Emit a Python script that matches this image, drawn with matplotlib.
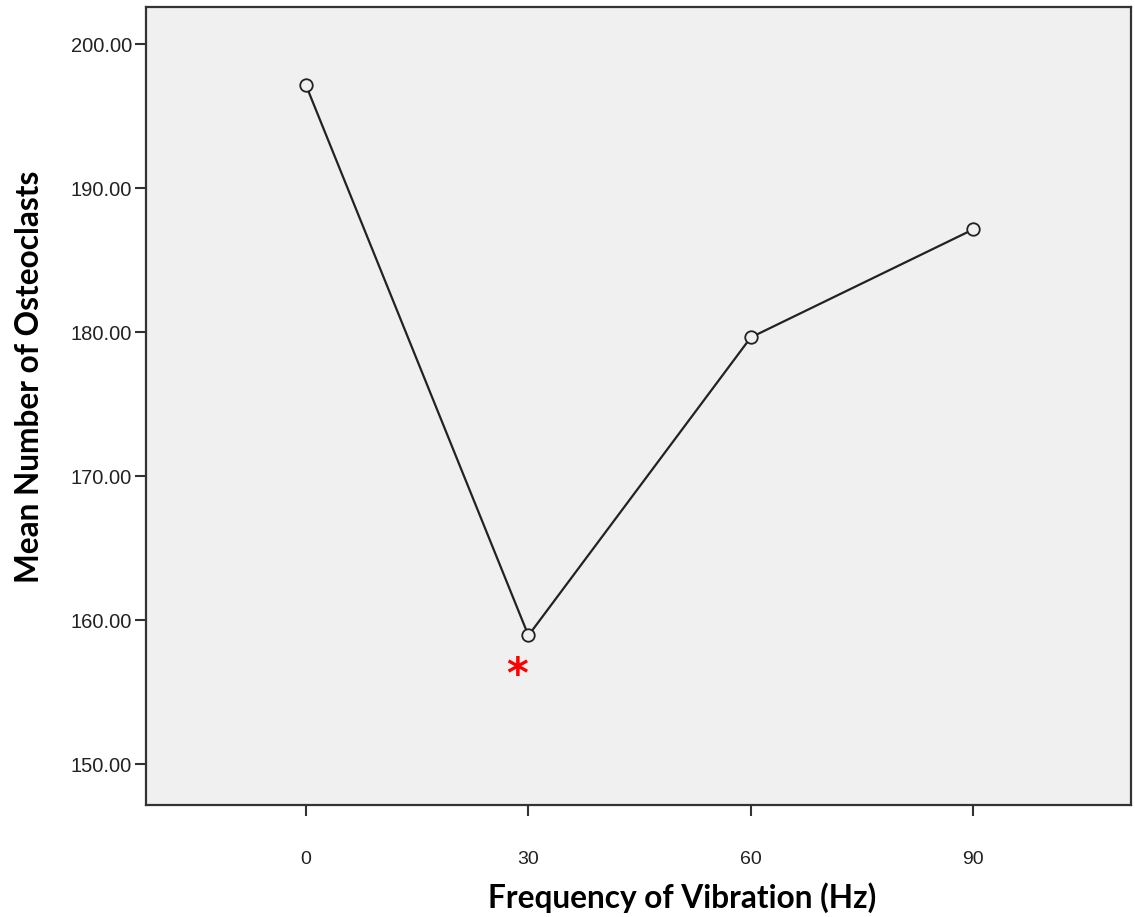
import matplotlib.pyplot as plt

# data
freq = [0, 30, 60, 90]
means = [197.15, 158.95, 179.65, 187.15]
yticks = [150, 160, 170, 180, 190, 200]
sig_idx = 1  # 30 Hz marked as significant

fig = plt.figure(figsize=(11.35, 9.17), dpi=100)
ax = fig.add_axes([0.1286, 0.1225, 0.8679, 0.8699])
ax.set_facecolor('#f0f0f0')

ax.plot(freq, means, color='#222222', linewidth=1.6, marker='o', markersize=9,
        markerfacecolor='#f0f0f0', markeredgecolor='#222222', markeredgewidth=1.3)

# significance asterisk just below the 30 Hz point
ax.annotate('*', xy=(freq[sig_idx], means[sig_idx]), xytext=(-8, -29),
            textcoords='offset points', ha='center', va='center',
            color='red', fontsize=30, fontweight='bold', family='DejaVu Sans')

ax.set_xlim(-21.6, 111.3)
ax.set_ylim(147.2, 202.6)
ax.set_xticks(freq)
ax.set_yticks(yticks)
ax.set_yticklabels(['%.2f' % v for v in yticks])

for s in ax.spines.values():
    s.set_color('#333333')
    s.set_linewidth(1.6)

ax.tick_params(axis='y', length=8, width=1.5, color='#333333', pad=2,
               labelsize=14.5, labelcolor='#222222')
ax.tick_params(axis='x', length=8, width=1.5, color='#333333', pad=25,
               labelsize=14, labelcolor='#222222')
for lab in ax.get_xticklabels() + ax.get_yticklabels():
    lab.set_family('Liberation Sans')

ax.set_xlabel('Frequency of Vibration (Hz)', fontsize=22.8, fontweight='bold',
              family='Lato', va='center')
ax.set_ylabel('Mean Number of Osteoclasts', fontsize=22.8, fontweight='bold',
              family='Lato', va='center')
ax.xaxis.set_label_coords(0.544, -0.117)
ax.yaxis.set_label_coords(-0.118, 0.536)

plt.savefig('out.png', dpi=100)
